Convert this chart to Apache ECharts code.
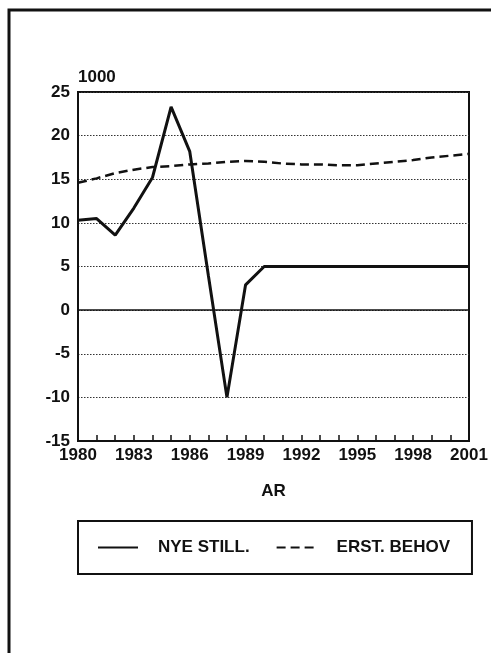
<!DOCTYPE html>
<html>
<head>
<meta charset="utf-8">
<script src="https://cdn.jsdelivr.net/npm/echarts@6/dist/echarts.min.js"></script>
<style>
html, body { margin: 0; padding: 0; background: #fff; }
#chart { width: 491px; height: 653px; }
</style>
</head>
<body>
<div id="chart"></div>
<script>
// years on the x axis
var years = ['1980', '1981', '1982', '1983', '1984', '1985', '1986', '1987', '1988', '1989', '1990',
	'1991', '1992', '1993', '1994', '1995', '1996', '1997', '1998', '1999', '2000', '2001'];

// NYE STILL. (solid)
var nyeStill = [10.3, 10.5, 8.6, 11.7, 15.2, 23.3, 18.2, 4.0, -10.0, 2.9, 5, 5, 5, 5, 5, 5, 5, 5, 5, 5, 5, 5];

// ERST. BEHOV (dashed)
var erstBehov = [14.6, 15.1, 15.7, 16.1, 16.4, 16.5, 16.7, 16.8, 17.0, 17.1, 17.0,
	16.8, 16.7, 16.7, 16.6, 16.6, 16.8, 17.0, 17.2, 17.5, 17.7, 17.9];

var seriesNames = ['NYE STILL.', 'ERST. BEHOV'];
var yUnit = '1000';
var xTitle = 'AR';

var ink = '#111';
var font = 'Liberation Sans';

var chart = echarts.init(document.getElementById('chart'));

var option = {
	backgroundColor: '#fff',
	animation: false,
	grid: {
		left: 78,
		top: 92,
		right: 22,
		bottom: 212,
		show: true,
		borderColor: ink,
		borderWidth: 2,
		backgroundColor: 'transparent'
	},
	legend: {
		left: 78,
		top: 521,
		data: seriesNames,
		itemWidth: 40,
		itemHeight: 14,
		itemGap: 26,
		padding: [18, 22, 18, 19],
		borderColor: ink,
		borderWidth: 2,
		selectedMode: false,
		// hide the marker dot, keep only the line sample
		itemStyle: { opacity: 0 },
		textStyle: {
			color: ink,
			fontFamily: font,
			fontWeight: 'bold',
			fontSize: 17,
			padding: [0, 0, 0, 15]
		}
	},
	xAxis: {
		type: 'category',
		data: years,
		boundaryGap: false,
		name: xTitle,
		nameLocation: 'middle',
		nameGap: 42,
		nameTextStyle: {
			color: ink,
			fontFamily: font,
			fontWeight: 'bold',
			fontSize: 17
		},
		axisLine: {
			onZero: false,
			lineStyle: { color: ink, width: 2 }
		},
		axisTick: {
			inside: true,
			length: 6,
			interval: 0,
			lineStyle: { color: ink, width: 1.5 }
		},
		axisLabel: {
			interval: 2,
			margin: 6,
			color: ink,
			fontFamily: font,
			fontWeight: 'bold',
			fontSize: 17
		},
		splitLine: { show: false }
	},
	yAxis: {
		type: 'value',
		min: -15,
		max: 25,
		interval: 5,
		name: yUnit,
		nameLocation: 'end',
		nameGap: 15,
		nameTextStyle: {
			color: ink,
			fontFamily: font,
			fontWeight: 'bold',
			fontSize: 17,
			align: 'left',
			verticalAlign: 'middle'
		},
		axisLine: {
			show: true,
			lineStyle: { color: ink, width: 2 }
		},
		axisTick: { show: false },
		axisLabel: {
			margin: 8,
			color: ink,
			fontFamily: font,
			fontWeight: 'bold',
			fontSize: 17
		},
		splitLine: {
			show: true,
			lineStyle: { color: '#333', type: [1.5, 1.5], width: 1.2 }
		}
	},
	series: [{
		name: seriesNames[0],
		type: 'line',
		data: nyeStill,
		symbol: 'none',
		z: 5,
		lineStyle: { color: ink, width: 3 },
		itemStyle: { color: ink },
		markLine: {
			silent: true,
			symbol: 'none',
			label: { show: false },
			lineStyle: { color: ink, type: 'solid', width: 1.5 },
			data: [{ yAxis: 0 }]
		}
	}, {
		name: seriesNames[1],
		type: 'line',
		data: erstBehov,
		symbol: 'none',
		z: 4,
		lineStyle: { color: ink, width: 2.5, type: [9, 5] },
		itemStyle: { color: ink }
	}],
	graphic: [{
		// page frame (top and left rule of the scanned page)
		type: 'polyline',
		silent: true,
		shape: { points: [[9, 653], [9, 10], [491, 10]] },
		style: { stroke: ink, lineWidth: 3, fill: null }
	}]
};

chart.setOption(option);
</script>
</body>
</html>
